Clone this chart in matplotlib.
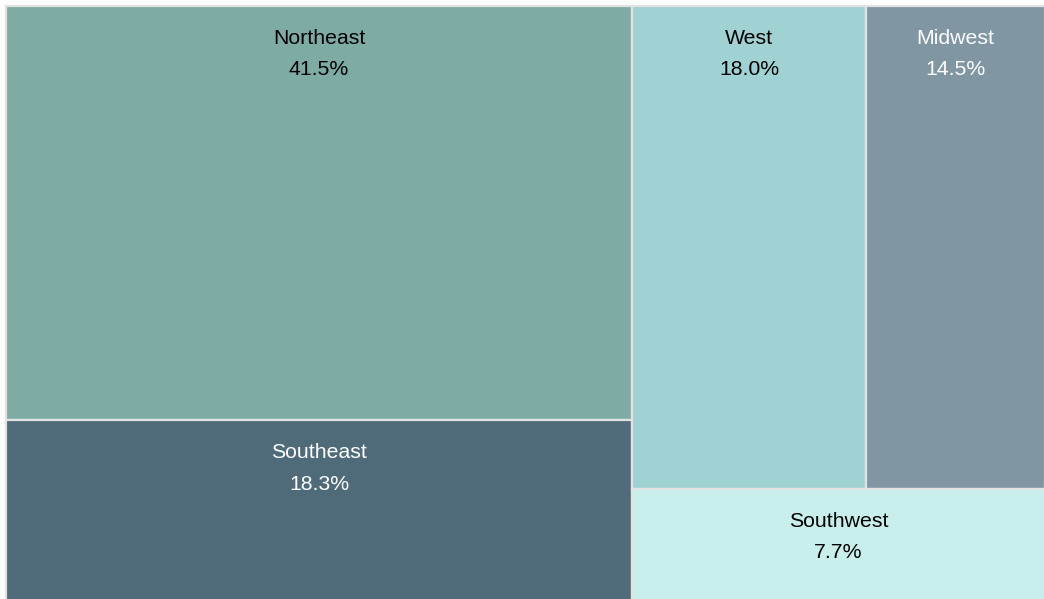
import matplotlib
matplotlib.use("Agg")
import matplotlib.pyplot as plt
from matplotlib.patches import Rectangle

categories = ["Northeast", "Southeast", "West", "Midwest", "Southwest"]
# share shown in the labels (percent)
shares = [41.5, 18.3, 18.0, 14.5, 7.7]
# tile sizes (percent of area)
sizes = [41.9, 18.35, 18.25, 13.95, 7.55]
colors = ["#7FABA5", "#4F6A78", "#A1D2D3", "#8196A3", "#C8EFEC"]
text_colors = ["#000000", "#FFFFFF", "#000000", "#FFFFFF", "#000000"]
labels = [f"{v:.1f}%" for v in shares]

# layout tree: ('h' = side by side, 'v' = stacked top to bottom)
tree = ("h", [("v", [0, 1]), ("v", [("h", [2, 3]), 4])])


def tsum(node):
    if isinstance(node, int):
        return sizes[node]
    return sum(tsum(c) for c in node[1])


def layout(node, x, y, w, h, out):
    if isinstance(node, int):
        out[node] = (x, y, w, h)
        return
    kind, children = node
    total = tsum(node)
    pos = 0.0
    for c in children:
        frac = tsum(c) / total
        if kind == "h":
            layout(c, x + pos * w, y, w * frac, h, out)
        else:
            layout(c, x, y + pos * h, w, h * frac, out)
        pos += frac


rects = {}
layout(tree, 0.0, 0.0, 1.0, 1.0, rects)

fig = plt.figure(figsize=(10.44, 5.99), dpi=100)
fig.patch.set_facecolor("white")
W, H = 1044, 599
ax = fig.add_axes([6 / W, (599 - 6 - 596) / H, 1039 / W, 596 / H])
ax.set_xlim(0, 1)
ax.set_ylim(1, 0)
ax.axis("off")

for i, name in enumerate(categories):
    x, y, w, h = rects[i]
    ax.add_patch(Rectangle((x, y), w, h, facecolor=colors[i],
                           edgecolor="#E2E2E2", linewidth=1.6, clip_on=False))
    cx = x + w / 2
    ax.annotate(name, (cx, y), xytext=(0, -23.3), textcoords="offset points",
                ha="center", va="center", fontsize=15.3, color=text_colors[i],
                family="Liberation Sans")
    ax.annotate(labels[i], (cx, y), xytext=(0, -45.8), textcoords="offset points",
                ha="center", va="center", fontsize=15.3, color=text_colors[i],
                family="Liberation Sans")

fig.savefig("out.png", dpi=100, facecolor="white")
